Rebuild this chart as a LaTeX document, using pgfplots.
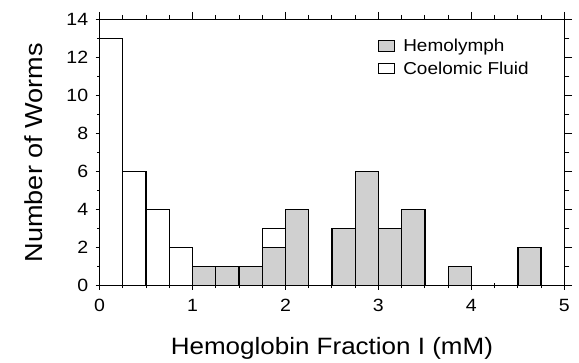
\documentclass[border=0pt]{standalone}
\usepackage{fontspec}
\setmainfont{Liberation Sans}[FakeStretch=1.1]
\usepackage{pgfplots}
\pgfplotsset{compat=1.18}
\definecolor{hemo}{RGB}{208,208,208}

\begin{document}
\begin{tikzpicture}[x=1pt,y=1pt]
\pgfplotsset{
  common/.style={
    scale only axis, width=472pt, height=270pt,
    xmin=0, xmax=5, ymin=0, ymax=14,
    xtick={0,1,2,3,4,5}, minor x tick num=3,
    ytick={0,2,...,14}, minor y tick num=1,
    axis line style={line width=1.1pt},
    every tick/.style={black, line width=0.9pt},
    major tick length=8pt, minor tick length=5pt,
  }
}
\begin{axis}[common, name=ax, at={(0,0)}, anchor=south west,
  tick align=center, xtick pos=bottom, ytick pos=left,
  /pgf/number format/assume math mode=true,
  tick label style={font=\fontsize{18}{20}\selectfont},
  xticklabel style={yshift=-6pt},
  yticklabel style={xshift=-4pt},
  xlabel={Hemoglobin Fraction I (mM)},
  ylabel={Number of Worms},
  label style={font=\fontsize{24}{26}\selectfont},
  xlabel style={at={(axis description cs:0.5,-0.235)}, anchor=center},
  ylabel style={font=\fontsize{25}{27}\selectfont, at={(axis description cs:-0.141,0.5)}, anchor=center},
  reverse legend=true,
  legend style={draw=none, fill=none, at={(axis description cs:0.598,0.935)},
    anchor=north west, font=\fontsize{17.5}{20}\selectfont,
    row sep=5pt, inner sep=0pt, cells={anchor=west},
    nodes={inner xsep=0pt},
    /tikz/every odd column/.append style={column sep=8pt}},
]
% coelomic fluid counts, 0.25 mM bins (bin centres)
\addplot[ybar, bar width=0.25, bar shift=0pt, fill=white, draw=black, line width=1.3pt,
  legend image code/.code={\draw[fill=white,draw=black,line width=1pt] (0pt,-5pt) rectangle (17pt,6pt);}]
  table {
x y
0.125 13
0.375 6
0.625 4
0.875 2
1.875 3
};
\addlegendentry{Coelomic Fluid}
% hemolymph counts
\addplot[ybar, bar width=0.25, bar shift=0pt, fill=hemo, draw=black, line width=1.3pt,
  legend image code/.code={\draw[fill=hemo,draw=black,line width=1pt] (0pt,-5pt) rectangle (17pt,6pt);}]
  table {
x y
1.125 1
1.375 1
1.625 1
1.875 2
2.125 4
2.625 3
2.875 6
3.125 3
3.375 4
3.875 1
4.625 2
};
\addlegendentry{Hemolymph}
\end{axis}
% outward ticks on the top and right edges
\begin{axis}[common, at={(0,0)}, anchor=south west,
  tick align=outside, xtick pos=top, ytick pos=right,
  xticklabels={}, yticklabels={}]
\end{axis}
\path ([xshift=-101pt,yshift=-77pt]ax.south west) rectangle ([xshift=6pt,yshift=20pt]ax.north east);
\end{tikzpicture}
\end{document}
